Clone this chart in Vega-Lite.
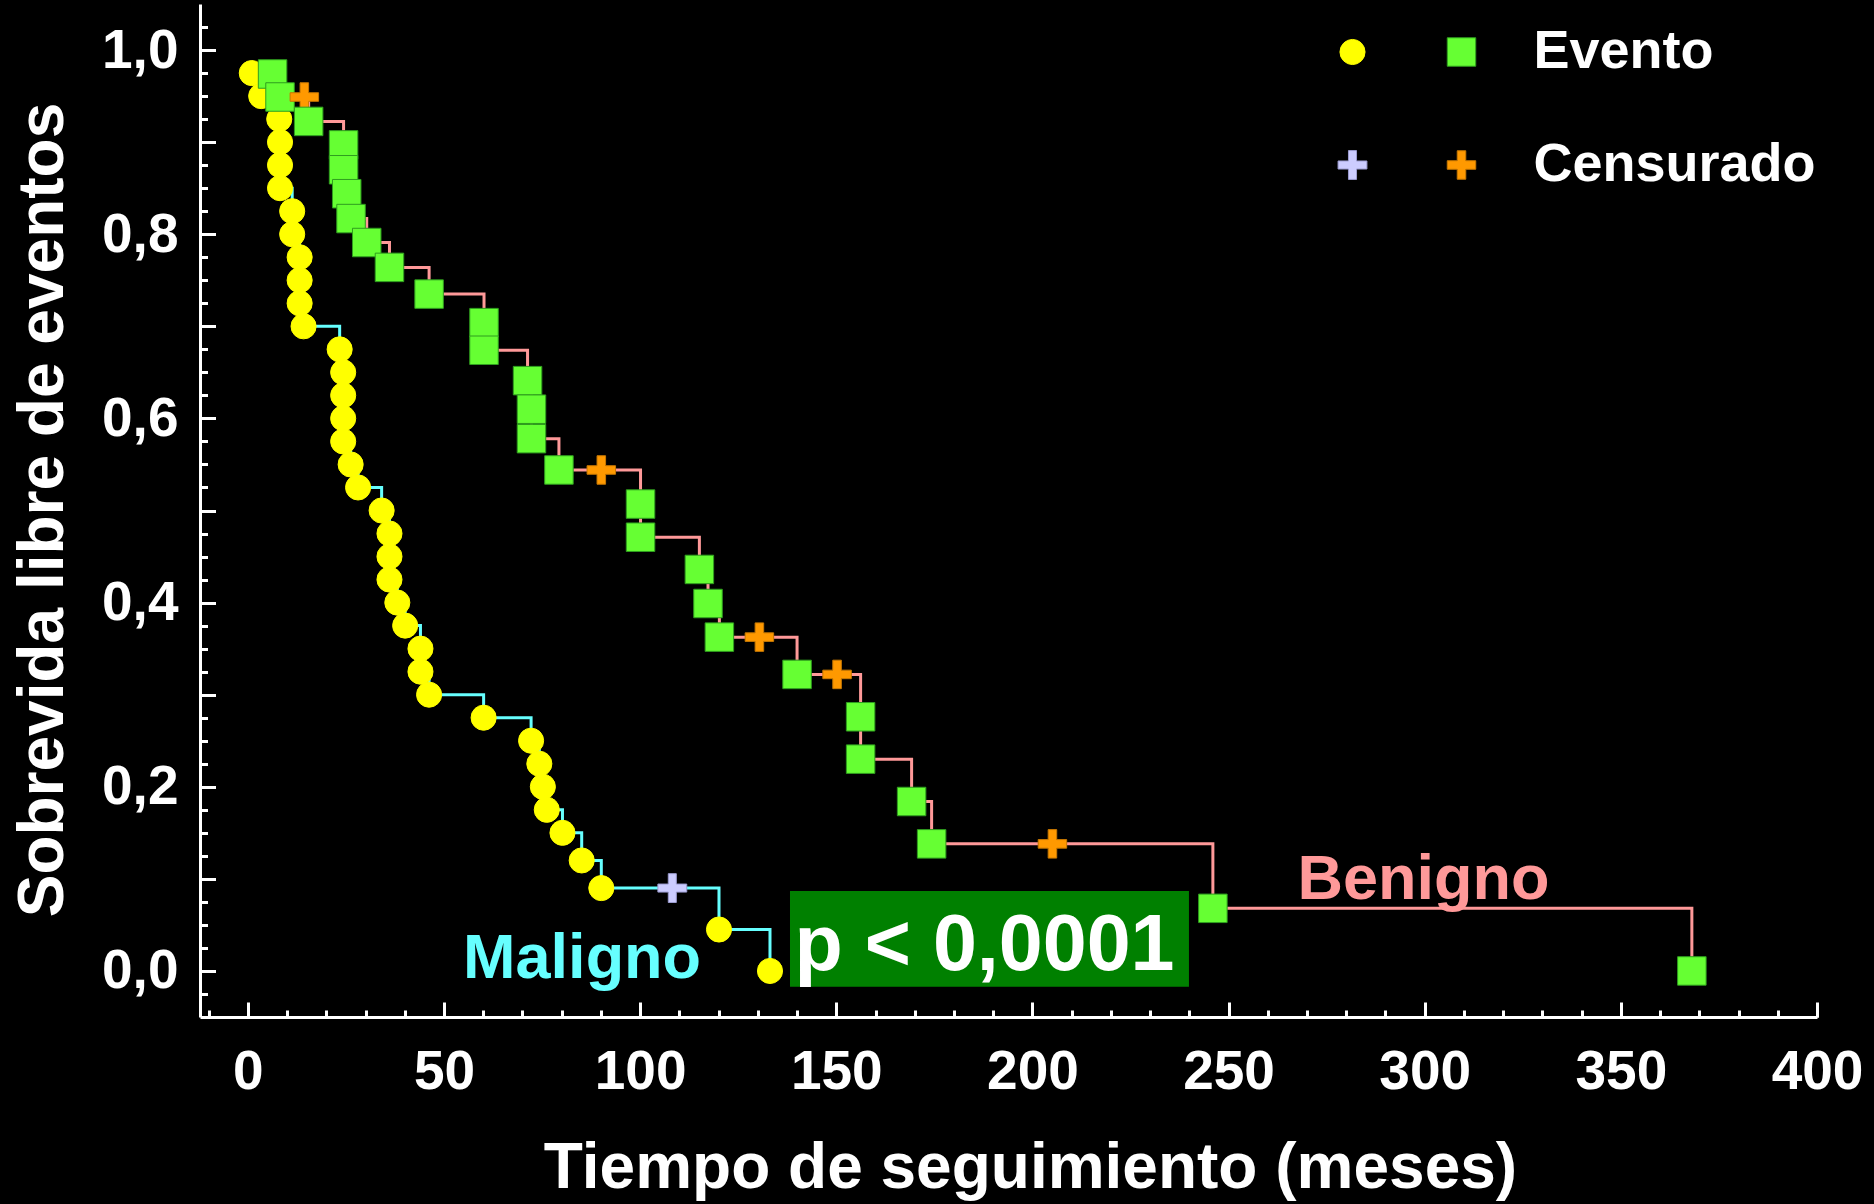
{
  "$schema": "https://vega.github.io/schema/vega-lite/v6.json",
  "width": 1617,
  "height": 1013,
  "autosize": "none",
  "padding": {"left": 200, "top": 4, "right": 57, "bottom": 187},
  "background": "#000000",
  "config": {
    "view": {"stroke": null},
    "axis": {
      "grid": false,
      "domainColor": "#FFFFFF",
      "tickColor": "#FFFFFF",
      "labelColor": "#FFFFFF",
      "titleColor": "#FFFFFF",
      "labelFont": "Liberation Sans",
      "labelFontWeight": "bold",
      "titleFont": "Liberation Sans",
      "titleFontWeight": "bold"
    },
    "legend": {
      "labelFont": "Liberation Sans",
      "labelFontWeight": "bold",
      "labelColor": "#FFFFFF"
    }
  },
  "datasets": {
    "km": [
      {"grupo": "Maligno", "tiempo": 1.0, "superv": 0.975, "estado": "Evento"},
      {"grupo": "Maligno", "tiempo": 3.4, "superv": 0.95, "estado": "Evento"},
      {"grupo": "Maligno", "tiempo": 8.0, "superv": 0.925, "estado": "Evento"},
      {"grupo": "Maligno", "tiempo": 8.2, "superv": 0.9, "estado": "Evento"},
      {"grupo": "Maligno", "tiempo": 8.2, "superv": 0.875, "estado": "Evento"},
      {"grupo": "Maligno", "tiempo": 8.2, "superv": 0.85, "estado": "Evento"},
      {"grupo": "Maligno", "tiempo": 11.3, "superv": 0.825, "estado": "Evento"},
      {"grupo": "Maligno", "tiempo": 11.3, "superv": 0.8, "estado": "Evento"},
      {"grupo": "Maligno", "tiempo": 13.2, "superv": 0.775, "estado": "Evento"},
      {"grupo": "Maligno", "tiempo": 13.2, "superv": 0.75, "estado": "Evento"},
      {"grupo": "Maligno", "tiempo": 13.2, "superv": 0.725, "estado": "Evento"},
      {"grupo": "Maligno", "tiempo": 14.2, "superv": 0.7, "estado": "Evento"},
      {"grupo": "Maligno", "tiempo": 23.4, "superv": 0.675, "estado": "Evento"},
      {"grupo": "Maligno", "tiempo": 24.3, "superv": 0.65, "estado": "Evento"},
      {"grupo": "Maligno", "tiempo": 24.3, "superv": 0.625, "estado": "Evento"},
      {"grupo": "Maligno", "tiempo": 24.3, "superv": 0.6, "estado": "Evento"},
      {"grupo": "Maligno", "tiempo": 24.3, "superv": 0.575, "estado": "Evento"},
      {"grupo": "Maligno", "tiempo": 26.2, "superv": 0.55, "estado": "Evento"},
      {"grupo": "Maligno", "tiempo": 28.1, "superv": 0.525, "estado": "Evento"},
      {"grupo": "Maligno", "tiempo": 34.1, "superv": 0.5, "estado": "Evento"},
      {"grupo": "Maligno", "tiempo": 36.1, "superv": 0.475, "estado": "Evento"},
      {"grupo": "Maligno", "tiempo": 36.1, "superv": 0.45, "estado": "Evento"},
      {"grupo": "Maligno", "tiempo": 36.1, "superv": 0.425, "estado": "Evento"},
      {"grupo": "Maligno", "tiempo": 38.1, "superv": 0.4, "estado": "Evento"},
      {"grupo": "Maligno", "tiempo": 40.1, "superv": 0.375, "estado": "Evento"},
      {"grupo": "Maligno", "tiempo": 44.0, "superv": 0.35, "estado": "Evento"},
      {"grupo": "Maligno", "tiempo": 44.0, "superv": 0.325, "estado": "Evento"},
      {"grupo": "Maligno", "tiempo": 46.2, "superv": 0.3, "estado": "Evento"},
      {"grupo": "Maligno", "tiempo": 60.1, "superv": 0.275, "estado": "Evento"},
      {"grupo": "Maligno", "tiempo": 72.2, "superv": 0.25, "estado": "Evento"},
      {"grupo": "Maligno", "tiempo": 74.3, "superv": 0.225, "estado": "Evento"},
      {"grupo": "Maligno", "tiempo": 75.2, "superv": 0.2, "estado": "Evento"},
      {"grupo": "Maligno", "tiempo": 76.2, "superv": 0.175, "estado": "Evento"},
      {"grupo": "Maligno", "tiempo": 80.2, "superv": 0.15, "estado": "Evento"},
      {"grupo": "Maligno", "tiempo": 85.1, "superv": 0.12, "estado": "Evento"},
      {"grupo": "Maligno", "tiempo": 90.1, "superv": 0.09, "estado": "Evento"},
      {"grupo": "Maligno", "tiempo": 108.2, "superv": 0.09, "estado": "Censurado"},
      {"grupo": "Maligno", "tiempo": 120.1, "superv": 0.045, "estado": "Evento"},
      {"grupo": "Maligno", "tiempo": 133.1, "superv": 0.0, "estado": "Evento"},
      {"grupo": "Benigno", "tiempo": 6.3, "superv": 0.974, "estado": "Evento"},
      {"grupo": "Benigno", "tiempo": 8.2, "superv": 0.949, "estado": "Evento"},
      {"grupo": "Benigno", "tiempo": 14.4, "superv": 0.949, "estado": "Censurado"},
      {"grupo": "Benigno", "tiempo": 15.5, "superv": 0.9225, "estado": "Evento"},
      {"grupo": "Benigno", "tiempo": 24.4, "superv": 0.897, "estado": "Evento"},
      {"grupo": "Benigno", "tiempo": 24.4, "superv": 0.87, "estado": "Evento"},
      {"grupo": "Benigno", "tiempo": 25.2, "superv": 0.844, "estado": "Evento"},
      {"grupo": "Benigno", "tiempo": 26.3, "superv": 0.817, "estado": "Evento"},
      {"grupo": "Benigno", "tiempo": 30.3, "superv": 0.791, "estado": "Evento"},
      {"grupo": "Benigno", "tiempo": 36.1, "superv": 0.764, "estado": "Evento"},
      {"grupo": "Benigno", "tiempo": 46.2, "superv": 0.735, "estado": "Evento"},
      {"grupo": "Benigno", "tiempo": 60.2, "superv": 0.704, "estado": "Evento"},
      {"grupo": "Benigno", "tiempo": 60.2, "superv": 0.674, "estado": "Evento"},
      {"grupo": "Benigno", "tiempo": 71.3, "superv": 0.641, "estado": "Evento"},
      {"grupo": "Benigno", "tiempo": 72.3, "superv": 0.61, "estado": "Evento"},
      {"grupo": "Benigno", "tiempo": 72.3, "superv": 0.578, "estado": "Evento"},
      {"grupo": "Benigno", "tiempo": 79.3, "superv": 0.544, "estado": "Evento"},
      {"grupo": "Benigno", "tiempo": 90.1, "superv": 0.544, "estado": "Censurado"},
      {"grupo": "Benigno", "tiempo": 100.1, "superv": 0.507, "estado": "Evento"},
      {"grupo": "Benigno", "tiempo": 100.1, "superv": 0.471, "estado": "Evento"},
      {"grupo": "Benigno", "tiempo": 115.1, "superv": 0.436, "estado": "Evento"},
      {"grupo": "Benigno", "tiempo": 117.3, "superv": 0.399, "estado": "Evento"},
      {"grupo": "Benigno", "tiempo": 120.2, "superv": 0.3625, "estado": "Evento"},
      {"grupo": "Benigno", "tiempo": 130.4, "superv": 0.3625, "estado": "Censurado"},
      {"grupo": "Benigno", "tiempo": 140.0, "superv": 0.322, "estado": "Evento"},
      {"grupo": "Benigno", "tiempo": 150.2, "superv": 0.322, "estado": "Censurado"},
      {"grupo": "Benigno", "tiempo": 156.2, "superv": 0.276, "estado": "Evento"},
      {"grupo": "Benigno", "tiempo": 156.2, "superv": 0.23, "estado": "Evento"},
      {"grupo": "Benigno", "tiempo": 169.2, "superv": 0.184, "estado": "Evento"},
      {"grupo": "Benigno", "tiempo": 174.3, "superv": 0.138, "estado": "Evento"},
      {"grupo": "Benigno", "tiempo": 205.1, "superv": 0.138, "estado": "Censurado"},
      {"grupo": "Benigno", "tiempo": 246.0, "superv": 0.068, "estado": "Evento"},
      {"grupo": "Benigno", "tiempo": 368.1, "superv": 0.0, "estado": "Evento"}
    ]
  },
  "resolve": {
    "scale": {"fill": "independent", "shape": "independent", "stroke": "independent"},
    "axis": {"x": "independent", "y": "independent"}
  },
  "layer": [
    {
      "data": {"values": [{}]},
      "mark": {"type": "rect", "color": "#008000"},
      "encoding": {
        "x": {"datum": 138.2, "type": "quantitative", "scale": {"domain": [-12.2, 400], "nice": false, "zero": false}, "axis": null},
        "x2": {"datum": 239.9},
        "y": {"datum": 0.0868, "type": "quantitative", "scale": {"domain": [-0.05, 1.05], "nice": false, "zero": false}, "axis": null},
        "y2": {"datum": -0.0171}
      }
    },
    {
      "data": {"name": "km"},
      "transform": [{"filter": "datum.grupo == 'Maligno'"}],
      "mark": {"type": "line", "interpolate": "step-after", "color": "#66FFFF", "strokeWidth": 3},
      "encoding": {
        "x": {
          "field": "tiempo", "type": "quantitative",
          "scale": {"domain": [-12.2, 400], "nice": false, "zero": false},
          "axis": {
            "orient": "bottom",
            "values": [0, 50, 100, 150, 200, 250, 300, 350, 400],
            "format": "d",
            "tickSize": -15, "tickWidth": 3, "domainWidth": 3,
            "labelFontSize": 55, "labelPadding": 43, "labelFlush": false, "labelOverlap": false,
            "title": "Tiempo de seguimiento (meses)",
            "titleFontSize": 64, "titleX": 830, "titleY": 170,
            "titleAlign": "center", "titleBaseline": "alphabetic"
          }
        },
        "y": {
          "field": "superv", "type": "quantitative",
          "scale": {"domain": [-0.05, 1.05], "nice": false, "zero": false},
          "axis": {
            "orient": "left",
            "values": [0, 0.1, 0.2, 0.3, 0.4, 0.5, 0.6, 0.7, 0.8, 0.9, 1],
            "labelExpr": "round(datum.value * 10) % 2 == 0 ? replace(format(datum.value, '.1f'), '.', ',') : ''",
            "tickSize": -15.5, "tickWidth": 3, "domainWidth": 3,
            "labelFontSize": 55, "labelPadding": 37.5, "labelFlush": false, "labelOverlap": false,
            "title": "Sobrevida libre de eventos",
            "titleFontSize": 64, "titleAngle": -90, "titleX": -138, "titleY": 505.5,
            "titleAlign": "center", "titleBaseline": "alphabetic"
          }
        },
        "order": [{"field": "tiempo"}, {"field": "superv", "sort": "descending"}]
      }
    },
    {
      "data": {"name": "km"},
      "transform": [{"filter": "datum.grupo == 'Benigno'"}],
      "mark": {"type": "line", "interpolate": "step-after", "color": "#FF9999", "strokeWidth": 3},
      "encoding": {
        "x": {
          "field": "tiempo", "type": "quantitative",
          "scale": {"domain": [-12.2, 400], "nice": false, "zero": false},
          "axis": {
            "orient": "bottom",
            "values": [-10, 0, 10, 20, 30, 40, 50, 60, 70, 80, 90, 100, 110, 120, 130, 140, 150, 160, 170, 180, 190, 200, 210, 220, 230, 240, 250, 260, 270, 280, 290, 300, 310, 320, 330, 340, 350, 360, 370, 380, 390, 400],
            "tickSize": -7, "tickWidth": 3, "domain": false, "labels": false, "title": null
          }
        },
        "y": {
          "field": "superv", "type": "quantitative",
          "scale": {"domain": [-0.05, 1.05], "nice": false, "zero": false},
          "axis": {
            "orient": "left",
            "values": [-0.025, 0, 0.025, 0.05, 0.075, 0.1, 0.125, 0.15, 0.175, 0.2, 0.225, 0.25, 0.275, 0.3, 0.325, 0.35, 0.375, 0.4, 0.425, 0.45, 0.475, 0.5, 0.525, 0.55, 0.575, 0.6, 0.625, 0.65, 0.675, 0.7, 0.725, 0.75, 0.775, 0.8, 0.825, 0.85, 0.875, 0.9, 0.925, 0.95, 0.975, 1, 1.025],
            "tickSize": -7.5, "tickWidth": 3, "domain": false, "labels": false, "title": null
          }
        },
        "order": [{"field": "tiempo"}, {"field": "superv", "sort": "descending"}]
      }
    },
    {
      "data": {"name": "km"},
      "transform": [{"filter": "datum.grupo == 'Maligno'"}],
      "mark": {"type": "point", "filled": true, "size": 630, "strokeWidth": 1, "opacity": 1},
      "encoding": {
        "x": {"field": "tiempo", "type": "quantitative", "scale": {"domain": [-12.2, 400], "nice": false, "zero": false}, "axis": null},
        "y": {"field": "superv", "type": "quantitative", "scale": {"domain": [-0.05, 1.05], "nice": false, "zero": false}, "axis": null},
        "shape": {
          "field": "estado", "type": "nominal",
          "scale": {"domain": ["Evento", "Censurado"], "range": ["circle", "M-1.15,-0.32H-0.32V-1.15H0.32V-0.32H1.15V0.32H0.32V1.15H-0.32V0.32H-1.15Z"]},
          "legend": {"orient": "none", "legendX": 1125.5, "legendY": 21, "title": null, "padding": 0, "symbolSize": 630, "symbolStrokeWidth": 1, "symbolOpacity": 1, "labelFontSize": 54, "labelExpr": "''", "labelLimit": 500, "labelOffset": 4, "rowPadding": 59}
        },
        "fill": {
          "field": "estado", "type": "nominal",
          "scale": {"domain": ["Evento", "Censurado"], "range": ["#FFFF00", "#CCCCFF"]},
          "legend": {"orient": "none", "legendX": 1125.5, "legendY": 21, "title": null, "padding": 0, "symbolSize": 630, "symbolStrokeWidth": 1, "symbolOpacity": 1, "labelFontSize": 54, "labelExpr": "''", "labelLimit": 500, "labelOffset": 4, "rowPadding": 59}
        },
        "stroke": {
          "field": "estado", "type": "nominal",
          "scale": {"domain": ["Evento", "Censurado"], "range": ["#FFFF00", "#9C9CD0"]},
          "legend": {"orient": "none", "legendX": 1125.5, "legendY": 21, "title": null, "padding": 0, "symbolSize": 630, "symbolStrokeWidth": 1, "symbolOpacity": 1, "labelFontSize": 54, "labelExpr": "''", "labelLimit": 500, "labelOffset": 4, "rowPadding": 59}
        }
      }
    },
    {
      "data": {"name": "km"},
      "transform": [{"filter": "datum.grupo == 'Benigno'"}],
      "mark": {"type": "point", "filled": true, "size": 812, "strokeWidth": 1, "opacity": 1},
      "encoding": {
        "x": {"field": "tiempo", "type": "quantitative", "scale": {"domain": [-12.2, 400], "nice": false, "zero": false}, "axis": null},
        "y": {"field": "superv", "type": "quantitative", "scale": {"domain": [-0.05, 1.05], "nice": false, "zero": false}, "axis": null},
        "shape": {
          "field": "estado", "type": "nominal",
          "scale": {"domain": ["Evento", "Censurado"], "range": ["square", "M-1,-0.3H-0.3V-1H0.3V-0.3H1V0.3H0.3V1H-0.3V0.3H-1Z"]},
          "legend": {"orient": "none", "legendX": 1234.5, "legendY": 21, "title": null, "padding": 0, "symbolSize": 812, "symbolStrokeWidth": 1, "symbolOpacity": 1, "labelFontSize": 54, "labelLimit": 500, "labelOffset": 45, "rowPadding": 59, "labelColor": "#FFFFFF", "labelFontWeight": "bold"}
        },
        "fill": {
          "field": "estado", "type": "nominal",
          "scale": {"domain": ["Evento", "Censurado"], "range": ["#66FF33", "#FF9900"]},
          "legend": {"orient": "none", "legendX": 1234.5, "legendY": 21, "title": null, "padding": 0, "symbolSize": 812, "symbolStrokeWidth": 1, "symbolOpacity": 1, "labelFontSize": 54, "labelLimit": 500, "labelOffset": 45, "rowPadding": 59, "labelColor": "#FFFFFF", "labelFontWeight": "bold"}
        },
        "stroke": {
          "field": "estado", "type": "nominal",
          "scale": {"domain": ["Evento", "Censurado"], "range": ["#2F9E1F", "#C87800"]},
          "legend": {"orient": "none", "legendX": 1234.5, "legendY": 21, "title": null, "padding": 0, "symbolSize": 812, "symbolStrokeWidth": 1, "symbolOpacity": 1, "labelFontSize": 54, "labelLimit": 500, "labelOffset": 45, "rowPadding": 59, "labelColor": "#FFFFFF", "labelFontWeight": "bold"}
        }
      }
    },
    {
      "data": {"values": [{}]},
      "mark": {"type": "text", "font": "Liberation Sans", "fontWeight": "bold", "fontSize": 79, "color": "#FFFFFF", "align": "center", "baseline": "alphabetic"},
      "encoding": {
        "x": {"datum": 187.8, "type": "quantitative", "scale": {"domain": [-12.2, 400], "nice": false, "zero": false}, "axis": null},
        "y": {"datum": 0.001, "type": "quantitative", "scale": {"domain": [-0.05, 1.05], "nice": false, "zero": false}, "axis": null},
        "text": {"value": "p < 0,0001"}
      }
    },
    {
      "data": {"values": [{}]},
      "mark": {"type": "text", "font": "Liberation Sans", "fontWeight": "bold", "fontSize": 63, "color": "#66FFFF", "align": "center", "baseline": "alphabetic"},
      "encoding": {
        "x": {"datum": 85.2, "type": "quantitative", "scale": {"domain": [-12.2, 400], "nice": false, "zero": false}, "axis": null},
        "y": {"datum": -0.008, "type": "quantitative", "scale": {"domain": [-0.05, 1.05], "nice": false, "zero": false}, "axis": null},
        "text": {"value": "Maligno"}
      }
    },
    {
      "data": {"values": [{}]},
      "mark": {"type": "text", "font": "Liberation Sans", "fontWeight": "bold", "fontSize": 63, "color": "#FF9999", "align": "center", "baseline": "alphabetic"},
      "encoding": {
        "x": {"datum": 299.7, "type": "quantitative", "scale": {"domain": [-12.2, 400], "nice": false, "zero": false}, "axis": null},
        "y": {"datum": 0.0778, "type": "quantitative", "scale": {"domain": [-0.05, 1.05], "nice": false, "zero": false}, "axis": null},
        "text": {"value": "Benigno"}
      }
    }
  ]
}
